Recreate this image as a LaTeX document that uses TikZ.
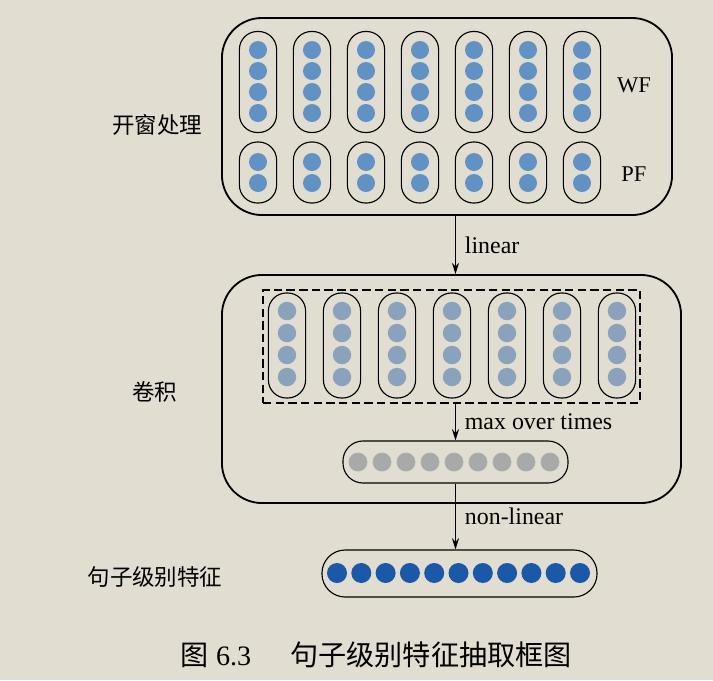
\documentclass[tikz,border=0pt]{standalone}
\usepackage{fontspec}
\setmainfont{Liberation Serif}
\newfontfamily\cjk{Noto Sans CJK SC}
\usetikzlibrary{arrows.meta}

\definecolor{paper}{RGB}{225,221,208}
\definecolor{wfdot}{RGB}{98,146,196}
\definecolor{convdot}{RGB}{138,162,188}
\definecolor{pooldot}{RGB}{168,170,170}
\definecolor{sentdot}{RGB}{28,88,168}

\begin{document}
\begin{tikzpicture}[x=0.025cm, y=-0.025cm,
    every node/.style={font=\fontsize{17}{20}\selectfont},
    bigbox/.style={draw, line width=1.3pt, rounded corners=1cm, inner sep=0pt},
    vpill/.style={draw, line width=0.8pt, rounded corners=0.45cm, minimum width=0.93cm, inner sep=0pt},
    hpill/.style={draw, line width=0.8pt, rounded corners=0.5cm, inner sep=0pt},
    arr/.style={-{Stealth[length=8pt,width=5pt]}, line width=0.7pt},
    side/.style={font=\cjk\fontsize{16}{19}\selectfont}]
  \fill[paper] (0,0) rectangle (713,680);
  \useasboundingbox (0,0) rectangle (713,680);

  % window features
  \node[bigbox, minimum width=11.25cm, minimum height=4.925cm] (win) at (447,116.5) {};
  \foreach \i in {0,...,6} {
    \node[vpill, minimum height=2.525cm] (wf\i) at ({258+54*\i},82) {};
    \node[vpill, minimum height=1.525cm] (pf\i) at ({258+54*\i},172.5) {};
    \foreach \y in {50,71,92,113}
      \fill[wfdot] ({258+54*\i},\y) circle[radius=0.225cm];
    \foreach \y in {162,183}
      \fill[wfdot] ({258+54*\i},\y) circle[radius=0.225cm];
  }
  \node[font=\fontsize{16}{19}\selectfont] (wf) at (634,85) {WF};
  \node[font=\fontsize{16}{19}\selectfont] (pf) at (634,174) {PF};
  \node[side] (winlab) at (157,125) {开窗处理};

  % convolution
  \node[bigbox, minimum width=11.475cm, minimum height=5.7cm] (conv) at (451.5,389) {};
  \node[draw, dash pattern=on 6pt off 3pt, line width=0.8pt, minimum width=9.425cm, minimum height=2.825cm, inner sep=0pt] (convin) at (451.5,346.5) {};
  \foreach \i in {0,...,6} {
    \node[vpill, minimum height=2.625cm] (cv\i) at ({287+55*\i},345.5) {};
    \foreach \y in {311,333,355,377}
      \fill[convdot] ({287+55*\i},\y) circle[radius=0.23cm];
  }
  \node[hpill, minimum width=5.625cm, minimum height=1.05cm] (pool) at (455.5,462) {};
  \foreach \i in {0,...,8}
    \fill[pooldot] ({358+24*\i},462) circle[radius=0.235cm];
  \node[side] (convlab) at (155,392) {卷积};

  % sentence features
  \node[hpill, minimum width=6.875cm, minimum height=1.175cm, rounded corners=0.58cm] (sent) at (459.5,573.5) {};
  \foreach \i in {0,...,10}
    \fill[sentdot] ({337+24.3*\i},573) circle[radius=0.25cm];
  \node[side] (sentlab) at (155,577) {句子级别特征};

  \draw[arr] (win.south -| pool.center) -- (conv.north -| pool.center) node[midway, right=3pt] {linear};
  \draw[arr] (convin.south -| pool.center) -- (pool.north) node[midway, right=3pt] {max over times};
  \draw[arr] (pool.south) -- (sent.north -| pool.center) node[midway, right=3pt] {non-linear};

  \node[font=\fontsize{20}{24}\selectfont] (fignum) at (216,655) {{\cjk 图} 6.3};
  \node[font=\cjk\fontsize{20}{24}\selectfont] (caption) at (431,655) {句子级别特征抽取框图};
\end{tikzpicture}
\end{document}
